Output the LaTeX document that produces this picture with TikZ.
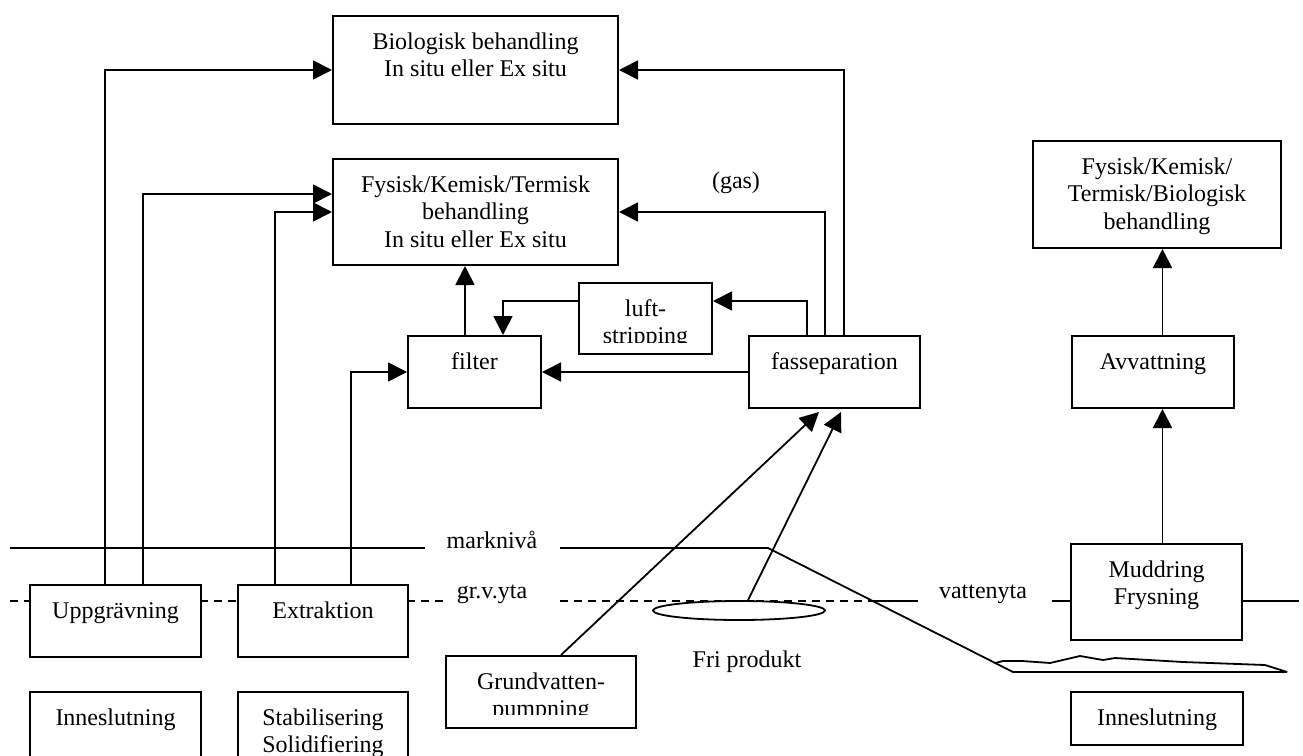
\documentclass[tikz,border=0pt]{standalone}
\usepackage{fontspec}
\setmainfont{Liberation Serif}
\usetikzlibrary{arrows.meta,shapes.geometric}
\begin{document}
\begin{tikzpicture}[x=0.5pt,y=-0.5pt,
  box/.style={draw,line width=1pt,rectangle,inner sep=0pt,anchor=north west},
  txt/.style={inner sep=0pt,anchor=north,align=center,font=\fontsize{12}{13.75}\selectfont},
  lbl/.style={inner sep=0pt,font=\fontsize{12}{13.75}\selectfont},
  arr/.style={line width=0.9pt,-{Triangle[length=9.5pt,width=9.5pt]}},
  ln/.style={line width=0.9pt},
  dsh/.style={line width=0.9pt,dash pattern=on 4pt off 3pt}]
\path[use as bounding box,fill=white] (0,0) rectangle (1303,756);
\clip (0,0) rectangle (1303,756);

% boxes
\node[box,minimum width=142.5pt,minimum height=54pt] (bio) at (332,15) {};
\node[box,minimum width=142.5pt,minimum height=53pt] (fys) at (332,158) {};
\node[box,minimum width=66.5pt,minimum height=36pt] (filter) at (407,335) {};
\node[box,minimum width=66.5pt,minimum height=35.5pt] (luft) at (578,282) {};
\node[box,minimum width=85.5pt,minimum height=36pt] (fas) at (748,335) {};
\node[box,minimum width=124pt,minimum height=53.5pt] (topr) at (1032,140) {};
\node[box,minimum width=81pt,minimum height=36pt] (avv) at (1071,335) {};
\node[box,minimum width=85.5pt,minimum height=48pt] (mud) at (1070,543) {};
\node[box,minimum width=85.5pt,minimum height=36pt] (uppg) at (29,584) {};
\node[box,minimum width=85pt,minimum height=36pt] (extr) at (237,584) {};
\node[box,minimum width=85.5pt,minimum height=36pt] (innL) at (29,691) {};
\node[box,minimum width=85pt,minimum height=36pt] (stab) at (237,691) {};
\node[box,minimum width=95pt,minimum height=36pt] (grund) at (445,655) {};
\node[box,minimum width=86pt,minimum height=26.5pt] (innR) at (1070,691) {};

% texts
\node[txt] (biot) at ([yshift=-7.4pt]bio.north) {\strut Biologisk behandling\\\strut In situ eller Ex situ};
\node[txt] (fyst) at ([yshift=-7.4pt]fys.north) {\strut Fysisk/Kemisk/Termisk\\\strut behandling\\\strut In situ eller Ex situ};
\node[txt] (filtert) at ([yshift=-7.4pt]filter.north) {\strut filter};
\begin{scope}
\clip (578,282) rectangle (711,342);
\node[txt] (luftt) at ([yshift=-7.4pt]luft.north) {\strut luft-\\\strut stripping};
\end{scope}
\node[txt] (fast) at ([yshift=-7.4pt]fas.north) {\strut fasseparation};
\node[txt] (toprt) at ([yshift=-7.4pt]topr.north) {\strut Fysisk/Kemisk/\\\strut Termisk/Biologisk\\\strut behandling};
\node[txt] (avvt) at ([yshift=-7.4pt]avv.north) {\strut Avvattning};
\node[txt] (mudt) at ([yshift=-7.4pt]mud.north) {\strut Muddring\\\strut Frysning};
\node[txt] (uppgt) at ([yshift=-7.4pt]uppg.north) {\strut Uppgrävning};
\node[txt] (extrt) at ([yshift=-7.4pt]extr.north) {\strut Extraktion};
\node[txt] (innLt) at ([yshift=-7.4pt]innL.north) {\strut Inneslutning};
\node[txt] (stabt) at ([yshift=-7.4pt]stab.north) {\strut Stabilisering\\\strut Solidifiering};
\begin{scope}
\clip (445,655) rectangle (635,714);
\node[txt] (grundt) at ([yshift=-7.4pt]grund.north) {\strut Grundvatten-\\\strut pumpning};
\end{scope}
\node[txt] (innRt) at ([yshift=-7.4pt]innR.north) {\strut Inneslutning};

% connectors
\draw[arr] ([xshift=38pt]uppg.north west) |- (bio.west);
\draw[arr] ([xshift=57pt]uppg.north west) |- ([yshift=9pt]fys.west);
\draw[arr] ([xshift=19pt]extr.north west) |- (fys.west);
\draw[arr] ([xshift=57pt]extr.north west) |- (filter.west);
\draw[arr] (fas.west) -- (filter.east);
\coordinate (fup) at ([xshift=-4.75pt]filter.north);
\draw[arr] (fup) -- (fup |- fys.south);
\draw[arr] ([yshift=8.75pt]luft.west) -| ([xshift=14.25pt]filter.north);
\draw[arr] ([xshift=-13.75pt]fas.north) |- ([yshift=8.75pt]luft.east);
\draw[arr] ([xshift=-4.75pt]fas.north) |- (fys.east);
\draw[arr] ([xshift=4.75pt]fas.north) |- (bio.east);
\node[lbl] (gas) at (736,183) {(gas)};

\node[draw,ellipse,line width=0.9pt,minimum width=86pt,minimum height=9.5pt,inner sep=0pt] (fri) at (739,610.5) {};
\draw[arr] ([xshift=10pt]grund.north) -- ([xshift=-7.75pt,yshift=-1.5pt]fas.south);
\draw[arr] ([xshift=4.5pt]fri.north) -- ([xshift=3.25pt,yshift=-1.5pt]fas.south);

\coordinate (m1) at ([xshift=3pt]mud.north);
\draw[arr] (m1) -- (m1 |- avv.south);
\draw[arr] (m1 |- avv.north) -- (m1 |- topr.south);

% ground and water lines
\draw[ln] (10,548) -- (425,548);
\node[lbl] (mark) at (492,540) {marknivå};
\draw[ln] (560,548) -- (768,548) -- (1013,672) -- (1287,672);
\draw[ln] (995,663) -- (1003,661) -- (1022,661) -- (1050,663) -- (1080,656) -- (1103,660) -- (1115,658) -- (1183,662) -- (1265,665) -- (1287,672);
\draw[dsh] (10,601) -- (29,601);
\draw[dsh] (200,601) -- (237,601);
\draw[dsh] (407,601) -- (443,601);
\node[lbl] (grv) at (492,594) {gr.v.yta};
\draw[dsh] (560,601) -- (874,601);
\draw[ln] (874,601) -- (918,601);
\node[lbl] (vy) at (983,594) {vattenyta};
\draw[ln] (1052,601) -- (1070,601);
\draw[ln] (1241,601) -- (1299,601);
\node[lbl] (fritxt) at (747,662) {Fri produkt};
\end{tikzpicture}
\end{document}
